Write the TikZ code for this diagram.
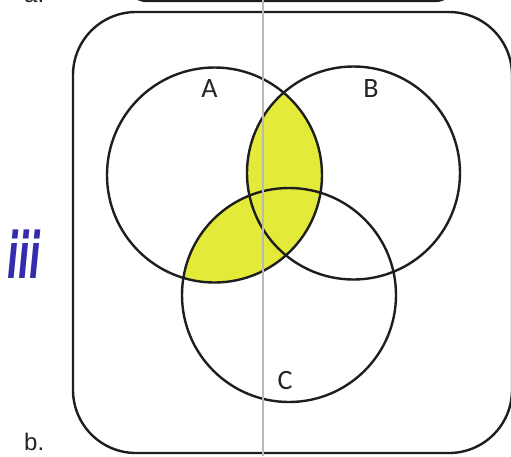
\documentclass[tikz,border=0pt]{standalone}
\usepackage{fontspec}
\usepackage{graphicx}
\setmainfont{Liberation Sans}
\newfontfamily\labelfont{Carlito}
\newfontfamily\handfont{DejaVu Sans}
\definecolor{venny}{RGB}{228,234,58}
\definecolor{inkblue}{RGB}{52,44,172}
\definecolor{edge}{RGB}{30,30,30}
\begin{document}
\begin{tikzpicture}[x=1pt,y=-1pt,
  setcircle/.style={draw=edge,line width=2.4pt},
  frame/.style={draw=edge,line width=2.4pt,rounded corners=63pt},
  setlabel/.style={font=\labelfont\fontsize{28}{28}\selectfont,inner sep=0pt,text=black!85},
  partlabel/.style={font=\fontsize{24}{24}\selectfont,inner sep=0pt,anchor=base west,text=black!85}]
\useasboundingbox (0,0) rectangle (511,456);
\fill[white] (0,0) rectangle (511,456);
% top box (cropped)
\draw[edge,line width=2.4pt,rounded corners=20pt] (127,-80) rectangle (455,1);
\node[partlabel] (la) at (24,2) {a.};
% outer frame
\draw[frame] (73,12) rectangle (512,453);
% shading A ∩ (B ∪ C)
\begin{scope}
  \clip (214.5,175) circle (107.5);
  \fill[venny] (353.5,173) circle (106.5);
  \fill[venny] (289,295) circle (107);
\end{scope}
\node[circle,setcircle,minimum size=215pt,inner sep=0pt] (A) at (214.5,175) {};
\node[circle,setcircle,minimum size=213pt,inner sep=0pt] (B) at (353.5,173) {};
\node[circle,setcircle,minimum size=214pt,inner sep=0pt] (C) at (289,295) {};
\node[setlabel] (tA) at (209.5,89) {A};
\node[setlabel] (tB) at (371,89) {B};
\node[setlabel] (tC) at (285,381) {C};
\node[partlabel] (lb) at (24,450) {b.};
\node[text=inkblue,inner sep=0pt] (iii) at (24,254) {\scalebox{0.5}[1]{\handfont\bfseries\itshape\fontsize{64}{64}\selectfont iii}};
% scanner line
\draw[gray!55,line width=1.3pt] (263,0) -- (263,456);
\end{tikzpicture}
\end{document}
